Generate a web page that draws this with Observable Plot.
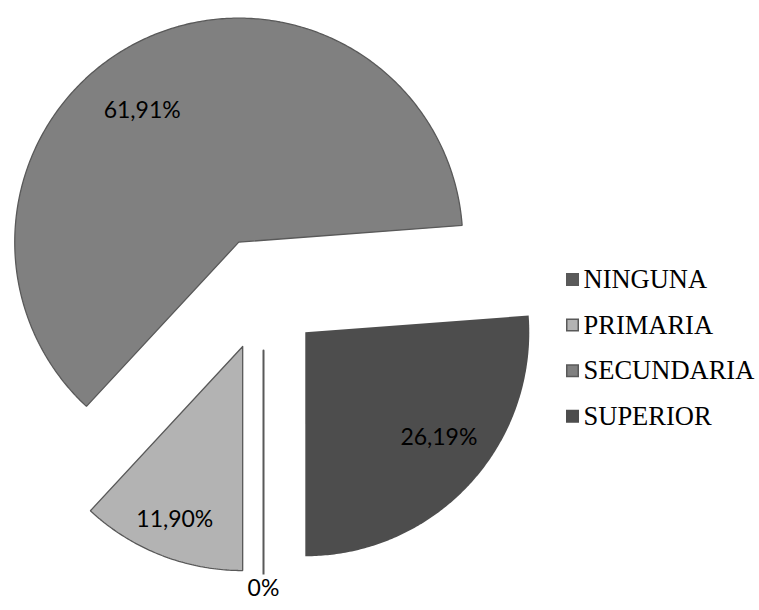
<!DOCTYPE html>
<html>
<head>
<meta charset="utf-8">
<script src="https://cdn.jsdelivr.net/npm/d3@7"></script>
<script src="https://cdn.jsdelivr.net/npm/@observablehq/plot@0.6"></script>
<style>
  html, body { margin: 0; padding: 0; background: #fff; }
  #chart { width: 759px; height: 610px; }
</style>
</head>
<body>
<div id="chart"></div>
<script>
// ---- data ----
const categories = ["NINGUNA", "PRIMARIA", "SECUNDARIA", "SUPERIOR"];
const values = [0, 11.90, 61.91, 26.19];
const valueLabels = ["0%", "11,90%", "61,91%", "26,19%"];
const fills = ["#5a5a5a", "#b3b3b3", "#808080", "#4d4d4d"];
const strokes = ["#595959", "#595959", "#595959", "none"];

// ---- layout ----
const W = 759, H = 610;
const CX = 263, CY = 293, R = 224, EXPLODE = 57;
const ux = px => (px - CX) / R;
const uy = py => (CY - py) / R;
const e = EXPLODE / R;
// label placement (angle in degrees clockwise from 12 o'clock, radius fraction)
const labelPlacement = {
  NINGUNA: {r: 1.065},
  PRIMARIA: {r: 0.83},
  SECUNDARIA: {angle: 323.8, r: 0.73},
  SUPERIOR: {angle: 128.3, r: 0.76}
};

const rows = categories.map((c, i) => ({
  category: c, value: values[i], label: valueLabels[i], fill: fills[i], stroke: strokes[i]
}));

const pie = d3.pie().sort(null).value(d => d.value)
  .startAngle(Math.PI).endAngle(3 * Math.PI);
const arcs = pie(rows);

const slices = arcs.map(a => {
  const mid = (a.startAngle + a.endAngle) / 2;
  const ox = e * Math.sin(mid), oy = e * Math.cos(mid);
  const span = a.endAngle - a.startAngle;
  const n = Math.max(1, Math.ceil(span / 0.01));
  const pts = [{x: ox, y: oy}];
  for (let k = 0; k <= n; k++) {
    const t = a.startAngle + span * k / n;
    pts.push({x: ox + Math.sin(t), y: oy + Math.cos(t)});
  }
  pts.push({x: ox, y: oy});
  const lp = labelPlacement[a.data.category];
  const la = lp.angle != null ? lp.angle * Math.PI / 180 : mid;
  return {
    ...a.data, pts,
    lx: ox + lp.r * Math.sin(la),
    ly: oy + lp.r * Math.cos(la)
  };
});

const legendRows = rows.map((d, i) => ({
  ...d,
  x: ux(572),
  tx: ux(583),
  y: uy(279 + i * 45.6)
}));

const marks = [];
for (const s of slices) {
  marks.push(Plot.line(s.pts, {
    x: "x", y: "y",
    fill: s.value > 0 ? s.fill : "none",
    stroke: s.stroke === "none" ? s.fill : s.stroke,
    strokeWidth: s.stroke === "none" ? 0 : (s.value > 0 ? 1.3 : 2),
    strokeLinejoin: "miter",
    curve: "linear"
  }));
}
marks.push(Plot.text(slices, {
  x: "lx", y: "ly", text: "label",
  fontSize: 23, fontFamily: "Lato, 'Open Sans', sans-serif",
  fill: "#000", textAnchor: "middle", lineAnchor: "middle"
}));
marks.push(Plot.dot(legendRows, {
  x: "x", y: "y", symbol: "square",
  r: 11.5 / Math.sqrt(Math.PI),
  fill: d => d.fill,
  stroke: d => d.stroke === "none" ? d.fill : d.stroke,
  strokeWidth: 1.5
}));
marks.push(Plot.text(legendRows, {
  x: "tx", y: "y", text: "category",
  fontSize: 26.5, fontFamily: "'Liberation Serif', 'Times New Roman', serif",
  fill: "#000", textAnchor: "start", lineAnchor: "middle"
}));

const chart = Plot.plot({
  width: W, height: H,
  margin: 0,
  style: {background: "#fff", overflow: "visible"},
  x: {domain: [ux(0), ux(W)], axis: null},
  y: {domain: [uy(H), uy(0)], axis: null},
  color: {type: "identity"},
  marks
});
document.getElementById("chart").appendChild(chart);
</script>
</body>
</html>
